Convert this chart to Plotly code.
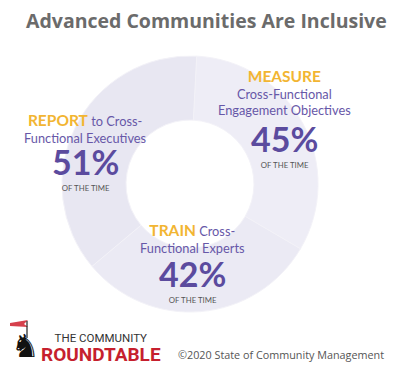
import plotly.graph_objects as go

# The page body has an 8px margin, so the figure is drawn 8px smaller and
# reference pixel coordinates are converted with that offset.
OFF = 8
W, H = 409 - OFF, 369 - OFF

# Data
categories = ["MEASURE", "TRAIN", "REPORT"]
values = [45, 42, 51]
descriptions = [
    ("", ["Cross-Functional", "Engagement Objectives"]),
    (" Cross-", ["Functional Experts"]),
    (" to Cross-", ["Functional Executives"]),
]
slice_colors = ["#eeedf6", "#ebeaf4", "#e8e7f2"]

PURPLE = "#5b4b9e"
PURPLE_L = "#6757a8"
ORANGE = "#f2b532"


def px(x):
    return (x - OFF) / W


def py(y):
    return 1 - (y - OFF) / H


fig = go.Figure()

# Donut ring
cx, cy, r = 190, 184, 128
fig.add_trace(go.Pie(
    values=values,
    labels=categories,
    hole=0.5,
    sort=False,
    direction="clockwise",
    rotation=3,
    marker=dict(colors=slice_colors, line=dict(color="#f3f2f8", width=1)),
    textinfo="none",
    hoverinfo="label+value",
    showlegend=False,
    domain=dict(x=[px(cx - r), px(cx + r)], y=[py(cy + r), py(cy - r)]),
))

ann = []


def text(x, y, s, size, color, family, xanchor="center"):
    ann.append(dict(x=px(x), y=py(y), xref="paper", yref="paper", text=s,
                    showarrow=False, xanchor=xanchor, yanchor="middle",
                    font=dict(size=size, color=color, family=family)))


LATO = "Lato, Roboto"
BOLD = "Open Sans"
LINE = 12.8          # base font size of description blocks (line step 1.3x)
HEAD = 15.5          # header word size

# Title
ann.append(dict(x=px(206), y=py(21), xref="paper", yref="paper",
                text="<b>Advanced Communities Are Inclusive</b>", showarrow=False,
                xanchor="center", yanchor="middle",
                font=dict(size=19.5, color="#6b6b6b", family="Open Sans")))

layout_pos = [
    dict(x=284, y_head=77, y_time=163),
    dict(x=192, y_head=231, y_time=298),
    dict(x=85, y_head=121, y_time=186),
]

for cat, val, (after, rest), pos in zip(categories, values, descriptions, layout_pos):
    head = f"<span style='color:{ORANGE}; font-size:{HEAD}px'><b>{cat}</b></span>"
    if after:
        head += f"<span style='color:{PURPLE_L}'>{after}</span>"
    lines = [head] + rest
    # vertical centre of the text box for the header + description lines
    b0 = pos["y_head"] + 0.36 * HEAD
    top = b0 - 0.99 * HEAD
    bottom = b0 + (len(lines) - 1) * 1.3 * LINE + 0.21 * LINE
    text(pos["x"], (top + bottom) / 2, "<br>".join(lines), LINE, PURPLE_L, LATO)

    # big percentage and "OF THE TIME"
    block = (f"<span style='font-size:34px; color:{PURPLE}'><b>{val}%</b></span>"
             f"<br><span style='font-size:7.8px; color:#555555'>OF THE TIME</span>")
    b1 = pos["y_time"] - 23 + 0.36 * 34
    text(pos["x"], b1 - 8.2, block, 12, "#555555", LATO)

# Footer: logo and credits
text(25, 346, "♞", 32, "#111111", "DejaVu Sans")
footer_logo = ("<span style='font-size:11.5px; color:#333333'>THE COMMUNITY</span><br>"
               "<span style='font-size:19px; color:#c61f2e'><b>ROUNDTABLE</b></span>")
text(39, 348, footer_logo, 14.6, "#333333", "Roboto", xanchor="left")
text(281, 354, "©2020 State of Community Management", 10.8, "#555555", "Open Sans")

fig.update_layout(
    width=W, height=H,
    margin=dict(l=0, r=0, t=0, b=0),
    paper_bgcolor="white", plot_bgcolor="white",
    annotations=ann,
    shapes=[
        dict(type="path", xref="paper", yref="paper",
             path=f"M {px(10)},{py(323)} L {px(28)},{py(320)} L {px(24)},{py(324)} L {px(28)},{py(327)} L {px(10)},{py(326)} Z",
             fillcolor="#d6404c", line=dict(width=0)),
        dict(type="line", xref="paper", yref="paper",
             x0=px(27), y0=py(321), x1=px(27), y1=py(338),
             line=dict(color="#222222", width=1.2)),
    ],
)

fig.write_html("out.html")
